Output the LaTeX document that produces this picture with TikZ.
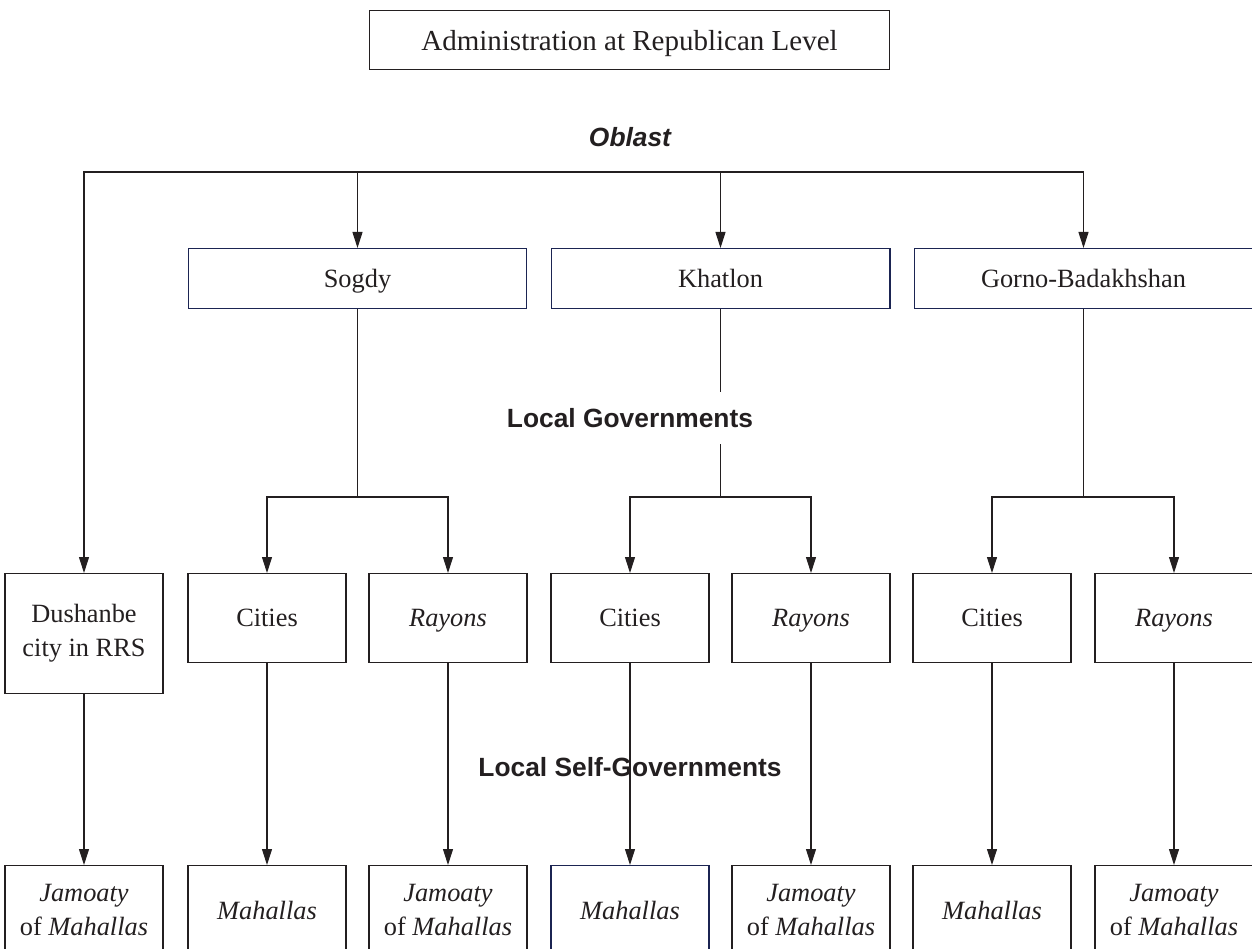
\documentclass[tikz,border=0pt]{standalone}
\usepackage{fontspec}
\setmainfont{Liberation Serif}
\setsansfont{Liberation Sans}
\usetikzlibrary{arrows.meta}
\definecolor{ink}{HTML}{231F20}
\definecolor{navy}{HTML}{1B2452}
\tikzset{
  conn/.style={line width=0.6pt, color=ink},
  arrow/.style={conn, -{Triangle[length=3.2mm, width=2mm]}},
  unit/.style={draw=ink, line width=0.6pt, text=ink, minimum width=3.16cm, minimum height=1.78cm, align=center, inner sep=0pt, anchor=north, font=\fontsize{15}{19.5}\selectfont},
  cell/.style={unit, text depth=0pt},
  region/.style={cell, draw=navy, minimum width=6.78cm, minimum height=1.2cm},
  tier/.style={text=ink, inner sep=0pt, font=\sffamily\bfseries\fontsize{15}{18}\selectfont}
}

\begin{document}
\begin{tikzpicture}[x=0.02cm, y=-0.02cm]
\useasboundingbox (0,0) rectangle (1252,949);
\node[cell, minimum width=10.42cm, minimum height=1.18cm, font=\fontsize{16.5}{20}\selectfont] (rep) at (629.5,10) {Administration at Republican Level};
\node[tier] (obl) at (630,137) {\itshape Oblast};
\coordinate (bus) at (630,172);
\node[region] (sogdy) at (357.5,248) {Sogdy};
\node[region] (khat) at (720.5,248) {Khatlon};
\node[region] (gorno) at (1083.5,248) {Gorno-Badakhshan};
\node[tier, minimum height=1.04cm] (lgov) at (630,418) {Local Governments};
\coordinate (sj) at (357.5,497);
\coordinate (kj) at (720.5,497);
\coordinate (gj) at (1083.5,497);
\node[unit, minimum height=2.4cm] (dush) at (84,573) {Dushanbe\\city in RRS};
\node[cell] (scity) at (267,573) {Cities};
\node[cell] (srayon) at (448,573) {\textit{Rayons}};
\node[cell] (kcity) at (630,573) {Cities};
\node[cell] (krayon) at (811,573) {\textit{Rayons}};
\node[cell] (gcity) at (992,573) {Cities};
\node[cell] (grayon) at (1174,573) {\textit{Rayons}};
\node[tier] (lsgov) at (630,767) {Local Self-Governments};
\node[unit] (dushj) at (84,865) {\textit{Jamoaty}\\of \textit{Mahallas}};
\node[cell] (scitym) at (267,865) {\textit{Mahallas}};
\node[unit] (srayonj) at (448,865) {\textit{Jamoaty}\\of \textit{Mahallas}};
\node[cell, draw=navy] (kcitym) at (630,865) {\textit{Mahallas}};
\node[unit] (krayonj) at (811,865) {\textit{Jamoaty}\\of \textit{Mahallas}};
\node[cell] (gcitym) at (992,865) {\textit{Mahallas}};
\node[unit] (grayonj) at (1174,865) {\textit{Jamoaty}\\of \textit{Mahallas}};
\foreach \n in {dush,sogdy,khat,gorno} {\draw[arrow] (bus) -| (\n.north);}
\draw[conn] (sogdy.south) -- (sj);
\draw[conn] (khat.south) -- (lgov.north -| khat.south);
\draw[conn] (lgov.south -| khat.south) -- (kj);
\draw[conn] (gorno.south) -- (gj);
\foreach \j/\a/\b in {sj/scity/srayon, kj/kcity/krayon, gj/gcity/grayon} {
  \draw[arrow] (\j) -| (\a.north);
  \draw[arrow] (\j) -| (\b.north);
}
\foreach \a/\b in {dush/dushj, scity/scitym, srayon/srayonj, kcity/kcitym, krayon/krayonj, gcity/gcitym, grayon/grayonj} {\draw[arrow] (\a.south) -- (\b.north);}
\end{tikzpicture}
\end{document}
